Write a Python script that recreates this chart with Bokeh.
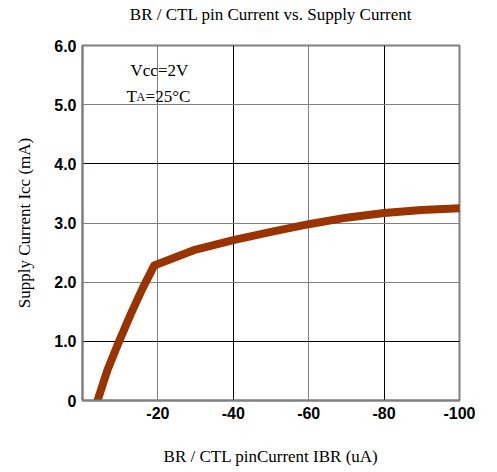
from bokeh.plotting import figure
from bokeh.models import Range1d, FixedTicker, Grid, Label, LinearAxis
from bokeh.embed import file_html
from bokeh.resources import INLINE

# Data
ibr = [-4, -6.6, -9.7, -12.8, -15.9, -19.0, -29.5, -40, -50, -60, -70, -80, -90, -100]
icc = [0, 0.51, 1.0, 1.46, 1.89, 2.28, 2.54, 2.71, 2.85, 2.98, 3.09, 3.17, 3.22, 3.25]

xticks = [0, -20, -40, -60, -80, -100]
xtick_labels = ["", "-20", "-40", "-60", "-80", "-100"]
yticks = [0, 1, 2, 3, 4, 5, 6]
ytick_labels = ["0", "1.0", "2.0", "3.0", "4.0", "5.0", "6.0"]

title = "BR / CTL pin Current vs. Supply Current"
xlabel = "BR / CTL pinCurrent IBR (uA)"
ylabel = "Supply Current Icc (mA)"

SERIF = "Liberation Serif"
SANS = "Liberation Sans"
GREY = "#808080"

p = figure(width=480, height=470, output_backend="svg", toolbar_location=None,
           x_range=Range1d(0, -100), y_range=Range1d(0, 6),
           min_border_left=82, min_border_right=21, min_border_top=45, min_border_bottom=70)
p.title.visible = False

p.xaxis.ticker = FixedTicker(ticks=xticks)
p.yaxis.ticker = FixedTicker(ticks=yticks)
p.xaxis.major_label_overrides = dict(zip(xticks, xtick_labels))
p.yaxis.major_label_overrides = dict(zip(yticks, ytick_labels))

for ax in (p.xaxis[0], p.yaxis[0]):
    ax.major_tick_line_color = None
    ax.minor_tick_line_color = None
    ax.major_tick_out = 0
    ax.major_tick_in = 0
    ax.axis_line_color = GREY
    ax.axis_line_width = 2
    ax.major_label_text_font = SANS
    ax.major_label_text_font_style = "bold"
    ax.major_label_text_font_size = "16px"
    ax.major_label_text_color = "#000000"
    ax.axis_label_text_font = SERIF
    ax.axis_label_text_font_style = "normal"
    ax.axis_label_text_font_size = "17px"
    ax.axis_label_text_color = "#000000"

p.xaxis.major_label_standoff = 6
p.yaxis.major_label_standoff = 6
p.xaxis.axis_label = xlabel
p.yaxis.axis_label = ylabel
p.xaxis.axis_label_standoff = 25
p.yaxis.axis_label_standoff = 17

# Title drawn as the label of an empty axis above the frame
top = LinearAxis(ticker=FixedTicker(ticks=[]), axis_label=title,
                 axis_line_color=None, major_tick_line_color=None,
                 minor_tick_line_color=None, major_tick_out=0, major_tick_in=0,
                 major_label_text_font_size="0px", major_label_standoff=0,
                 axis_label_standoff=22, axis_label_text_font=SERIF,
                 axis_label_text_font_style="normal", axis_label_text_font_size="17px",
                 axis_label_text_color="#000000")
p.add_layout(top, "above")

p.xgrid.visible = False
p.ygrid.visible = False
p.outline_line_color = GREY
p.outline_line_width = 2

grids = [
    (0, [-20, -60], GREY),
    (0, [-40, -80], "#000000"),
    (1, [2, 3, 5], GREY),
    (1, [1, 4], "#000000"),
]
for dim, ticks, col in grids:
    g = Grid(dimension=dim, ticker=FixedTicker(ticks=ticks),
             grid_line_color=col, grid_line_width=1)
    p.add_layout(g)

p.line(ibr, icc, line_color="#993300", line_width=8, line_cap="round", line_join="round")

# x-axis "0" label, offset right of the origin as in the original
p.add_layout(Label(x=0, y=0, x_offset=11, y_offset=-6, text="0", text_font=SANS,
                   text_font_style="bold", text_font_size="16px", text_color="#000000",
                   text_align="center", text_baseline="top"))

# Conditions annotation
p.add_layout(Label(x=-20.4, y=5.58, text="Vcc=2V", text_font=SERIF, text_font_size="17px",
                   text_color="#000000", text_align="center", text_baseline="middle"))
p.add_layout(Label(x=-11.7, y=5.14, text="T", text_font=SERIF, text_font_size="17px",
                   text_color="#000000", text_align="left", text_baseline="alphabetic"))
p.add_layout(Label(x=-11.7, y=5.14, x_offset=10, y_offset=-1, text="A", text_font=SERIF,
                   text_font_size="12px", text_color="#000000",
                   text_align="left", text_baseline="alphabetic"))
p.add_layout(Label(x=-11.7, y=5.14, x_offset=19, text="=25\u00b0C", text_font=SERIF,
                   text_font_size="17px", text_color="#000000",
                   text_align="left", text_baseline="alphabetic"))

open("out.html", "w").write(file_html(p, INLINE))
